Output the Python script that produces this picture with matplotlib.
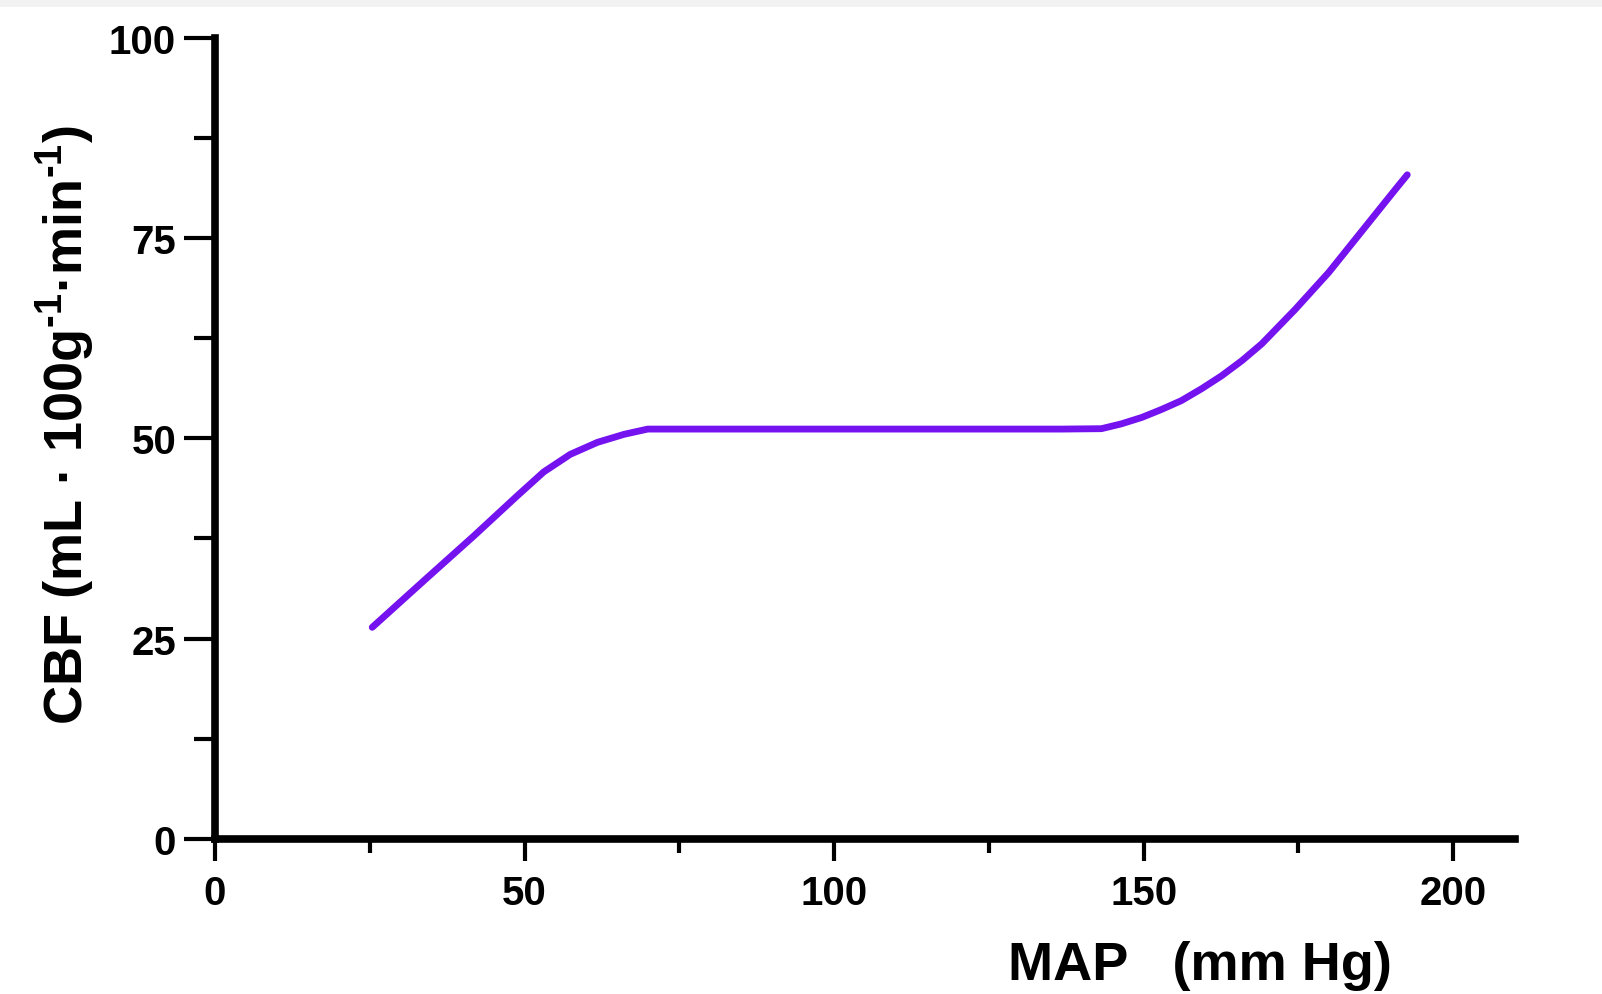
import matplotlib.pyplot as plt
import matplotlib.ticker as ticker
from matplotlib.patches import Rectangle

# CBF autoregulation curve
map_mmhg = [25.4, 34.0, 41.8, 48.8, 53.1, 57.4, 61.8, 66.1, 69.9, 80.0, 100.0, 125.0,
            136.7, 143.2, 146.4, 149.7, 152.9, 156.1, 159.4, 162.6, 165.9, 169.1,
            174.5, 179.9, 185.3, 190.7, 192.6]
cbf = [26.4, 32.4, 37.8, 42.8, 45.8, 48.0, 49.5, 50.5, 51.15, 51.15, 51.15, 51.15,
       51.15, 51.2, 51.8, 52.6, 53.6, 54.7, 56.2, 57.8, 59.7, 61.8,
       66.1, 70.7, 75.9, 81.1, 82.9]

x_ticks = [0, 50, 100, 150, 200]
y_ticks = [0, 25, 50, 75, 100]

plt.rcParams['font.family'] = ['Liberation Sans', 'DejaVu Sans']
plt.rcParams['font.weight'] = 'bold'
plt.rcParams['mathtext.fontset'] = 'custom'
plt.rcParams['mathtext.rm'] = 'Liberation Sans:bold'
plt.rcParams['mathtext.bf'] = 'Liberation Sans:bold'
plt.rcParams['mathtext.default'] = 'bf'

fig = plt.figure(figsize=(16.02, 9.95), dpi=100)
fig.patch.set_facecolor('white')
# faint grey strip along the top edge, as in the scanned original
fig.patches.append(Rectangle((0, 0.992), 1, 0.008, transform=fig.transFigure,
                             facecolor='#f2f2f2', edgecolor='none'))

ax = fig.add_axes([0.1342, 0.156, 0.8115, 0.805])
ax.plot(map_mmhg, cbf, color='#7412f0', linewidth=4.9,
        solid_capstyle='round', solid_joinstyle='round')

ax.set_xlim(0, 210)
ax.set_ylim(0, 100)
ax.set_xticks(x_ticks)
ax.set_yticks(y_ticks)
ax.xaxis.set_minor_locator(ticker.MultipleLocator(25))
ax.yaxis.set_minor_locator(ticker.MultipleLocator(12.5))
ax.xaxis.set_minor_formatter(ticker.NullFormatter())
ax.yaxis.set_minor_formatter(ticker.NullFormatter())

for side in ['top', 'right']:
    ax.spines[side].set_visible(False)
for side in ['left', 'bottom']:
    ax.spines[side].set_linewidth(5.5)
    ax.spines[side].set_capstyle('projecting')

ax.tick_params(axis='y', which='major', direction='out', length=22, width=3, pad=6, labelsize=29)
ax.tick_params(axis='y', which='minor', direction='out', length=15, width=3)
ax.tick_params(axis='x', which='major', direction='out', length=16, width=3, pad=9, labelsize=29)
ax.tick_params(axis='x', which='minor', direction='out', length=10, width=3)
for lbl in ax.get_xticklabels() + ax.get_yticklabels():
    lbl.set_fontweight('bold')

ax.set_xlabel('MAP   (mm Hg)', fontsize=39, fontweight='bold', va='center')
ax.xaxis.set_label_coords(0.758, -0.157)
ax.set_ylabel('CBF (mL · 100g$^{\\text{-}1}$·min$^{\\text{-}1}$)', fontsize=39,
              fontweight='bold', va='center')
ax.yaxis.set_label_coords(-0.115, 0.518)

fig.savefig('out.png', dpi=100, facecolor='white')
